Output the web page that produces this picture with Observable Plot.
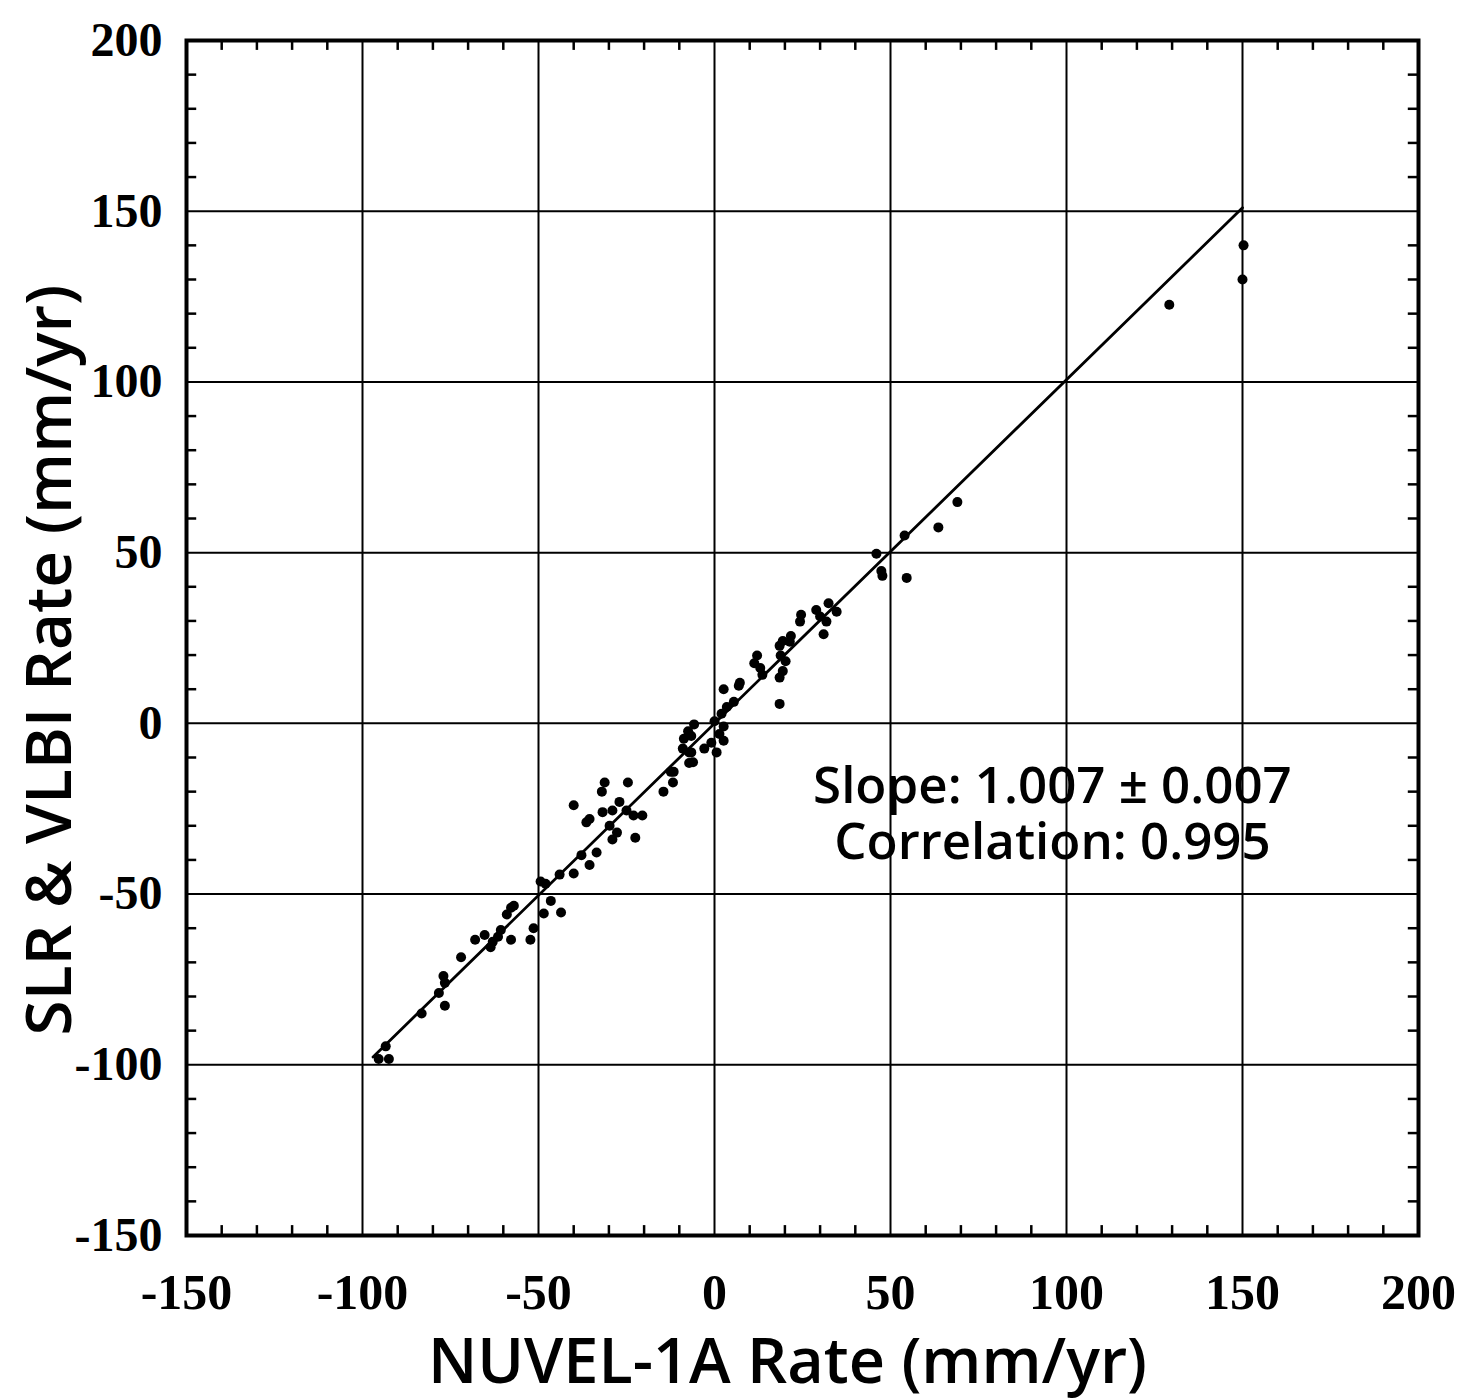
<!DOCTYPE html>
<html>
<head>
<meta charset="utf-8">
<script src="https://cdn.jsdelivr.net/npm/d3@7"></script>
<script src="https://cdn.jsdelivr.net/npm/@observablehq/plot@0.6"></script>
<style>
  html, body { margin: 0; padding: 0; background: #fff; }
  #chart svg { display: block; }
</style>
</head>
<body>
<div id="chart"></div>
<script>
// NUVEL-1A predicted rate (x) vs SLR & VLBI observed rate (y), mm/yr
const nuvelRate = [
  -95.4, -92.5, -93.4, -83.2, -76.6, -78.3, -77.0, -76.6, -72.0, -65.3,
  -68.0, -63.6, -63.0, -60.7, -61.5, -57.8, -51.4, -52.3, -57.0, -59.0,
  -57.8, -49.4, -48.0, -46.5, -43.6, -48.5, -44.0, -40.0, -35.5, -37.8,
  -33.5, -29.0, -22.5, -27.7, -29.8, -35.5, -36.4, -31.8, -29.0, -27.0,
  -25.0, -23.0, -20.5, -40.0, -31.2, -32.0, -24.6, -14.5, -11.8, -12.4,
  -9.0, -6.6, -7.2,
  -5.8, -7.5, -8.7, -6.6, -7.2, -6.1, -11.6, 0.0, 2.6, 1.4, 2.6, -0.9, -2.9, 0.6,
  2.0, 3.5, 5.5, 2.6, 7.2, 6.9, 18.5, 12.1, 11.3, 13.0, 13.6, 18.8, 20.2, 19.4,
  18.5, 21.7, 19.4, 18.5, 21.4, 24.6, 24.3, 31.8, 31.0, 32.4, 34.7, 28.9, 30.0,
  46.0, 47.4, 47.7, 54.6, 54.0, 63.6, 69.0, 129.2, 150.3, 150.0
];
const slrVlbiRate = [
  -98.3, -98.3, -94.6, -85.0, -82.7, -79.0, -74.0, -76.0, -68.5, -62.0,
  -63.4, -65.6, -64.0, -60.5, -62.5, -63.4, -60.0, -63.4, -53.4, -56.0,
  -54.0, -46.3, -47.0, -52.0, -55.4, -55.7, -44.3, -44.0, -41.5, -38.6,
  -37.8, -34.0, -33.5, -32.0, -30.0, -28.0, -29.0, -26.0, -25.5, -23.0,
  -25.5, -27.0, -27.0, -24.0, -17.3, -20.0, -17.3, -20.0, -17.3, -14.2,
  -7.4, -8.5, -11.6,
  -0.3, -2.3, -4.5, -3.7, -8.5, -11.4, -14.2, 0.6, -0.9, -3.1, -5.1, -5.7, -7.4, -8.5,
  2.8, 4.8, 6.3, 10.0, 11.9, 11.0, 5.7, 19.9, 17.6, 16.2, 14.2, 19.9, 18.2, 15.3,
  13.4, 25.6, 24.1, 22.7, 23.9, 31.8, 29.8, 29.8, 26.1, 35.2, 32.7, 33.2, 31.3,
  49.7, 44.6, 43.2, 42.6, 55.0, 57.4, 64.8, 122.6, 140.0, 130.0
];
// fitted line end points
const fitX = [-97, 150];
const fitY = [-97.7, 151.0];
// axes
const majorTicks = [-150, -100, -50, 0, 50, 100, 150, 200];
const minorTicks = [-140,-130,-120,-110,-90,-80,-70,-60,-40,-30,-20,-10,10,20,30,40,60,70,80,90,110,120,130,140,160,170,180,190];
const xLabel = "NUVEL-1A Rate (mm/yr)";
const yLabel = "SLR & VLBI Rate (mm/yr)";
const annotation = "Slope: 1.007 \u00b1 0.007\nCorrelation: 0.995";

const points = nuvelRate.map((x, i) => ({x, y: slrVlbiRate[i]}));
const fit = fitX.map((x, i) => ({x, y: fitY[i]}));

const serif = "'Liberation Serif', 'Times New Roman', serif";
const sans = "'Open Sans', 'Noto Sans', sans-serif";
const tl = 2.9; // minor tick length in data units

const chart = Plot.plot({
  width: 1465,
  height: 1399,
  marginLeft: 186,
  marginRight: 47,
  marginTop: 40,
  marginBottom: 164,
  x: {domain: [-150, 200]},
  y: {domain: [-150, 200]},
  style: {background: "white", color: "black"},
  marks: [
    Plot.ruleX(majorTicks, {x: d => d, stroke: "black", strokeWidth: 2}),
    Plot.ruleY(majorTicks, {y: d => d, stroke: "black", strokeWidth: 2}),
    // inward minor ticks on all four sides
    Plot.ruleX(minorTicks, {x: d => d, y1: () => -150, y2: () => -150 + tl, stroke: "black", strokeWidth: 2.5}),
    Plot.ruleX(minorTicks, {x: d => d, y1: () => 200, y2: () => 200 - tl, stroke: "black", strokeWidth: 2.5}),
    Plot.ruleY(minorTicks, {y: d => d, x1: () => -150, x2: () => -150 + tl, stroke: "black", strokeWidth: 2.5}),
    Plot.ruleY(minorTicks, {y: d => d, x1: () => 200, x2: () => 200 - tl, stroke: "black", strokeWidth: 2.5}),
    Plot.frame({stroke: "black", strokeWidth: 4}),
    Plot.line(fit, {x: "x", y: "y", stroke: "black", strokeWidth: 2.8}),
    Plot.dot(points, {x: "x", y: "y", r: 5, fill: "black", stroke: "none"}),
    Plot.axisX(majorTicks, {tickSize: 0, tickPadding: 38, fontSize: 50, fontFamily: serif, fontWeight: "bold", tickFormat: d => String(d), label: null}),
    Plot.axisY(majorTicks, {tickSize: 0, tickPadding: 24, fontSize: 48, fontFamily: serif, fontWeight: "bold", tickFormat: d => String(d), label: null}),
    Plot.text([xLabel], {frameAnchor: "bottom", text: d => d, lineAnchor: "bottom", dy: 147, dx: -15, fontSize: 63, fontFamily: sans, fontWeight: 600}),
    Plot.text([yLabel], {frameAnchor: "left", text: d => d, textAnchor: "middle", rotate: -90, dx: -136, dy: 22, fontSize: 64, fontFamily: sans, fontWeight: 600}),
    Plot.text([annotation], {x: () => 96, y: () => -39.6, text: d => d, lineAnchor: "bottom", lineHeight: 1.08, fontSize: 51, fontFamily: sans, fontWeight: 600})
  ]
});
document.getElementById("chart").appendChild(chart);
</script>
</body>
</html>
